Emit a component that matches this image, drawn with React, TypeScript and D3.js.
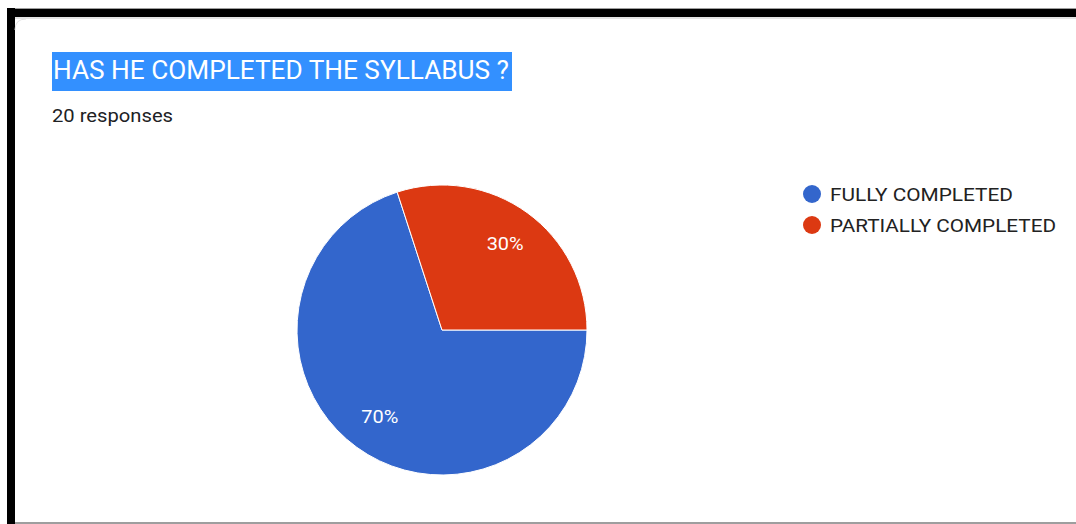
import React from "react";
import * as d3 from "d3";

const categories = ["FULLY COMPLETED", "PARTIALLY COMPLETED"];
const values = [70, 30];
const colors = ["#3366cc", "#dc3912"];
const title = "HAS HE COMPLETED THE SYLLABUS ?";
const subtitle = "20 responses";
const legendWidths = [183, 226];

export default function App() {
  const W = 1076, H = 524;
  const cx = 442, cy = 330, r = 145;
  const pie = d3.pie<number>().sort(null).startAngle(Math.PI / 2).endAngle(Math.PI / 2 + 2 * Math.PI);
  const arcs = pie(values);
  const arc = d3.arc<d3.PieArcDatum<number>>().innerRadius(0).outerRadius(r);
  const labelArc = d3.arc<d3.PieArcDatum<number>>().innerRadius(r * 0.735).outerRadius(r * 0.735);
  const total = d3.sum(values);
  const font = "Roboto, Arial, sans-serif";
  return (
    <svg width={W} height={H} style={{ position: "absolute", left: 0, top: 0 }} fontFamily={font}>
      <rect x={0} y={0} width={W} height={H} fill="#ffffff" />
      {/* frame */}
      <rect x={7} y={8} width={W - 7} height={1} fill="#9e9e9e" />
      <rect x={7} y={9} width={W - 7} height={8} fill="#000000" />
      <rect x={15} y={17} width={W - 15} height={2} fill="#e4e4e4" />
      <rect x={7} y={8} width={8} height={H - 8} fill="#000000" />
      <rect x={15} y={522} width={W - 15} height={2} fill="#9e9e9e" />
      <path d={`M15,30 Q15,19 26,19`} fill="none" stroke="#e4e4e4" strokeWidth={1} />
      {/* title */}
      <rect x={52} y={52} width={460} height={39} fill="#3390ff" />
      <text x={53} y={79} fontSize={26} fill="#ffffff" textLength={456} lengthAdjust="spacingAndGlyphs">{title}</text>
      <text x={52} y={122} fontSize={18} fill="#202124" textLength={121} lengthAdjust="spacingAndGlyphs">{subtitle}</text>
      {/* pie */}
      <g transform={`translate(${cx},${cy})`}>
        {arcs.map((a, i) => (
          <path key={i} d={arc(a) || ""} fill={colors[i]} stroke="#ffffff" strokeWidth={1} />
        ))}
        {arcs.map((a, i) => {
          const [lx, ly] = labelArc.centroid(a);
          return (
            <text key={"l" + i} x={lx - 18} y={ly} dy="0.35em" fontSize={18} fill="#ffffff" textLength={37} lengthAdjust="spacingAndGlyphs">
              {Math.round((a.data / total) * 100) + "%"}
            </text>
          );
        })}
      </g>
      {/* legend */}
      {categories.map((c, i) => (
        <g key={c} transform={`translate(812,${194 + i * 31})`}>
          <circle r={9} fill={colors[i]} />
          <text x={18} y={0} dy="0.36em" fontSize={19} fill="#222222" textLength={legendWidths[i]} lengthAdjust="spacingAndGlyphs">{c}</text>
        </g>
      ))}
    </svg>
  );
}
